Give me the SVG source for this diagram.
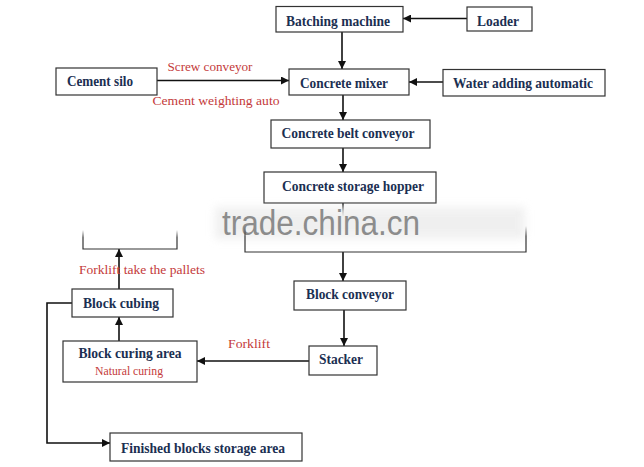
<svg xmlns="http://www.w3.org/2000/svg" width="644" height="467" viewBox="0 0 644 467">
<style>
.box{fill:#fff;stroke:#333;stroke-width:1.2}
.t{font-family:"Liberation Serif","Times New Roman",serif;font-weight:bold;font-size:14.5px;fill:#1b2f52;text-anchor:middle}
.r{font-family:"Liberation Serif","Times New Roman",serif;font-size:13.5px;fill:#c43a3a;text-anchor:middle}
.c{fill:none;stroke:#111;stroke-width:1.6}
.wm{font-family:"Liberation Sans",Arial,sans-serif;font-size:35px;fill:#8c8c8c}
</style>
<defs>
<marker id="ah" viewBox="0 0 10 10" refX="10" refY="5" markerWidth="9" markerHeight="8" markerUnits="userSpaceOnUse" orient="auto">
<path d="M0,0 L10,5 L0,10 z" fill="#111"/>
</marker>
<linearGradient id="fade" x1="0" y1="0" x2="0" y2="1">
<stop offset="0" stop-color="#333" stop-opacity="0"/>
<stop offset="0.4" stop-color="#333" stop-opacity="1"/>
<stop offset="1" stop-color="#333" stop-opacity="1"/>
</linearGradient>
<linearGradient id="fadeDown" x1="0" y1="0" x2="0" y2="1">
<stop offset="0" stop-color="#111" stop-opacity="1"/>
<stop offset="1" stop-color="#111" stop-opacity="0"/>
</linearGradient>
<filter id="blur" x="-10%" y="-30%" width="120%" height="160%"><feGaussianBlur stdDeviation="4"/></filter>
</defs>
<rect width="644" height="467" fill="#fff"/>

<g id="connectors">
<line class="c" x1="467" y1="18.5" x2="403" y2="18.5" marker-end="url(#ah)"/>
<line class="c" x1="342" y1="32" x2="342" y2="69" marker-end="url(#ah)"/>
<line class="c" x1="157" y1="80.5" x2="289" y2="80.5" marker-end="url(#ah)"/>
<line class="c" x1="443" y1="82" x2="409" y2="82" marker-end="url(#ah)"/>
<line class="c" x1="343" y1="95" x2="343" y2="120" marker-end="url(#ah)"/>
<line class="c" x1="343" y1="148" x2="343" y2="172" marker-end="url(#ah)"/>
<rect x="342.2" y="203" width="1.6" height="14" fill="url(#fadeDown)"/>
<line class="c" x1="343" y1="252" x2="343" y2="281" marker-end="url(#ah)"/>
<line class="c" x1="344" y1="310" x2="344" y2="346" marker-end="url(#ah)"/>
<line class="c" x1="309" y1="361" x2="197" y2="361" marker-end="url(#ah)"/>
<line class="c" x1="119" y1="341" x2="119" y2="317" marker-end="url(#ah)"/>
<line class="c" x1="119" y1="289" x2="119" y2="249" marker-end="url(#ah)"/>
<path class="c" d="M72,303 H47 V443 H110" marker-end="url(#ah)"/>
</g>

<g id="batching"><rect class="box" x="276" y="6.5" width="127" height="25.5"/><text class="t" x="338" y="26" textLength="104" lengthAdjust="spacingAndGlyphs">Batching machine</text></g>
<g id="loader"><rect class="box" x="467" y="7" width="65" height="24"/><text class="t" x="498" y="26" textLength="42" lengthAdjust="spacingAndGlyphs">Loader</text></g>
<g id="silo"><rect class="box" x="56" y="68" width="101" height="27"/><text class="t" x="100" y="86" textLength="66" lengthAdjust="spacingAndGlyphs">Cement silo</text></g>
<g id="mixer"><rect class="box" x="289" y="69" width="120" height="26"/><text class="t" x="344" y="88" textLength="88" lengthAdjust="spacingAndGlyphs">Concrete mixer</text></g>
<g id="water"><rect class="box" x="443" y="69.5" width="162" height="26.5"/><text class="t" x="523" y="88" textLength="140" lengthAdjust="spacingAndGlyphs">Water adding automatic</text></g>
<g id="belt"><rect class="box" x="271" y="120" width="159" height="28"/><text class="t" x="348" y="138" textLength="133" lengthAdjust="spacingAndGlyphs">Concrete belt conveyor</text></g>
<g id="hopper"><rect class="box" x="264" y="172" width="172" height="31"/><text class="t" x="353" y="191" textLength="142" lengthAdjust="spacingAndGlyphs">Concrete storage hopper</text></g>

<g id="labels">
<text class="r" x="210" y="71" textLength="85" lengthAdjust="spacingAndGlyphs">Screw conveyor</text>
<text class="r" x="216" y="105" textLength="127" lengthAdjust="spacingAndGlyphs">Cement weighting auto</text>
<text class="r" x="142" y="274" textLength="126" lengthAdjust="spacingAndGlyphs">Forklift take the pallets</text>
<text class="r" x="249" y="348" textLength="42" lengthAdjust="spacingAndGlyphs">Forklift</text>
</g>

<g id="watermark">
<rect x="215" y="207" width="310" height="32" fill="#e6e6e6" opacity="0.6" filter="url(#blur)"/>
<text class="wm" x="222" y="235" textLength="198" lengthAdjust="spacingAndGlyphs">trade.china.cn</text>
</g>

<g id="hidden-left"><path d="M83,230 V249 H177 V230" fill="none" stroke="url(#fade)" stroke-width="1.2"/></g>
<g id="hidden-main"><path d="M245,226 V252 H526 V226" fill="none" stroke="url(#fade)" stroke-width="1.2"/></g>

<g id="block-conveyor"><rect class="box" x="294" y="281" width="112" height="29"/><text class="t" x="350" y="299" textLength="88" lengthAdjust="spacingAndGlyphs">Block conveyor</text></g>
<g id="cubing"><rect class="box" x="72" y="289" width="101" height="28"/><text class="t" x="121" y="307.5" textLength="76" lengthAdjust="spacingAndGlyphs">Block cubing</text></g>
<g id="curing"><rect class="box" x="63" y="341" width="134" height="41"/><text class="t" x="130" y="358" textLength="103" lengthAdjust="spacingAndGlyphs">Block curing area</text><text class="r" x="129" y="375" style="font-size:12px" textLength="68" lengthAdjust="spacingAndGlyphs">Natural curing</text></g>
<g id="stacker"><rect class="box" x="309" y="346" width="68" height="29"/><text class="t" x="341" y="364" textLength="44" lengthAdjust="spacingAndGlyphs">Stacker</text></g>
<g id="finished"><rect class="box" x="110" y="433" width="192" height="28"/><text class="t" x="203" y="453" textLength="164" lengthAdjust="spacingAndGlyphs">Finished blocks storage area</text></g>
</svg>
